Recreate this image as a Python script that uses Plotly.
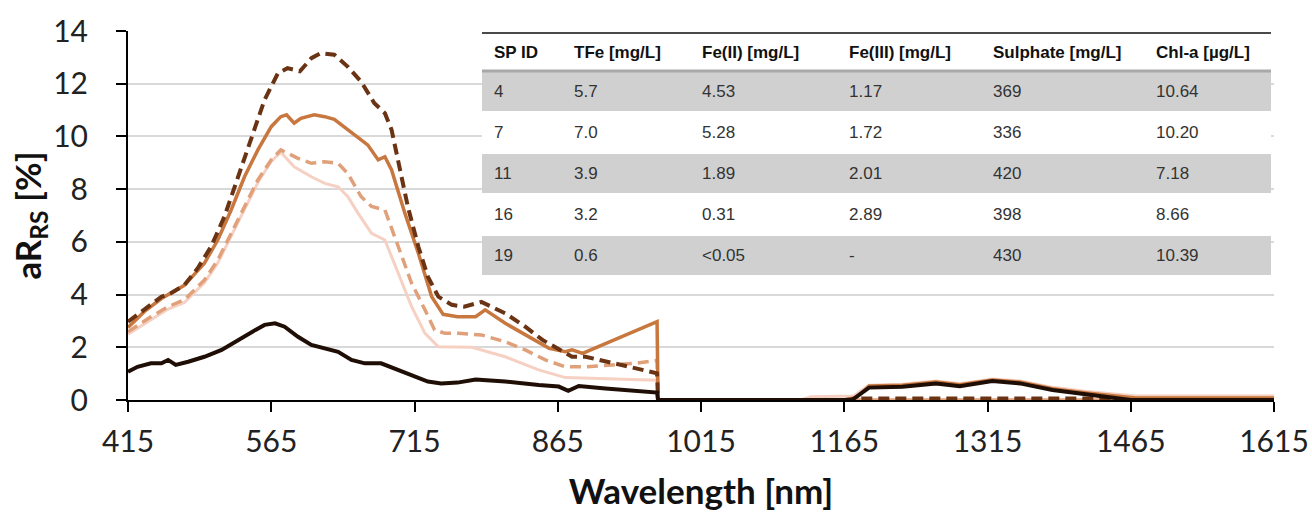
import plotly.graph_objects as go

# ---------------- data ----------------
wl_dark_dashed = [415, 432, 450, 460, 474, 488, 502, 516, 530, 544, 558, 572, 582, 595, 607, 617, 631, 645,
                  659, 673, 684, 691, 698, 708, 719, 729, 740, 754, 767, 785, 810, 831, 849, 870, 880, 894,
                  915, 940, 969, 970, 1165, 1185, 1435, 1450, 1615]
val_dark_dashed = [2.97, 3.42, 3.92, 4.05, 4.36, 5.0, 5.82, 6.96, 8.47, 9.99, 11.39, 12.4, 12.59, 12.47, 12.97,
                   13.16, 13.1, 12.65, 12.08, 11.26, 10.88, 10.25, 9.11, 7.34, 5.82, 4.68, 3.92, 3.61, 3.54,
                   3.72, 3.29, 2.78, 2.28, 1.83, 1.64, 1.64, 1.45, 1.26, 1.01, 0, 0, 0.06, 0.06, 0, 0]

wl_orange = [415, 432, 450, 474, 495, 509, 523, 537, 551, 565, 575, 581, 589, 596, 610, 621, 631, 645, 656,
             666, 677, 684, 691, 705, 719, 733, 745, 760, 779, 789, 810, 831, 856, 873, 880, 891, 969, 970,
             1165, 1178, 1191, 1226, 1261, 1286, 1320, 1349, 1383, 1419, 1453, 1470, 1615]
val_orange = [2.75, 3.35, 3.85, 4.35, 5.19, 6.07, 7.21, 8.47, 9.49, 10.37, 10.75, 10.82, 10.5, 10.69, 10.82,
              10.75, 10.65, 10.25, 9.93, 9.68, 9.11, 9.23, 8.73, 7.08, 5.57, 3.92, 3.25, 3.16, 3.16, 3.42,
              2.91, 2.47, 1.96, 1.83, 1.9, 1.77, 2.97, 0, 0, 0.1, 0.53, 0.56, 0.68, 0.58, 0.76, 0.68, 0.43,
              0.27, 0.13, 0.08, 0.08]

wl_light_dashed = [415, 439, 457, 474, 495, 509, 523, 537, 551, 565, 575, 579, 593, 607, 621, 635, 645, 659,
                   670, 684, 698, 712, 726, 736, 747, 761, 785, 810, 831, 852, 873, 894, 922, 946, 969, 970,
                   1615]
val_light_dashed = [2.59, 3.16, 3.54, 3.8, 4.55, 5.31, 6.32, 7.34, 8.35, 9.11, 9.49, 9.42, 9.17, 8.98, 9.04,
                    8.98, 8.6, 7.72, 7.34, 7.21, 5.82, 4.43, 3.42, 2.66, 2.53, 2.53, 2.47, 2.21, 1.9, 1.52,
                    1.26, 1.26, 1.33, 1.39, 1.5, 0, 0]

wl_pink = [415, 439, 457, 474, 495, 509, 523, 537, 551, 565, 575, 589, 607, 621, 635, 645, 656, 670, 684,
           698, 712, 726, 740, 775, 810, 845, 873, 969, 970, 1120, 1130, 1175, 1191, 1226, 1261, 1286, 1320,
           1349, 1383, 1419, 1453, 1470, 1615]
val_pink = [2.5, 3.05, 3.45, 3.7, 4.45, 5.2, 6.2, 7.2, 8.25, 9.05, 9.4, 8.85, 8.47, 8.22, 8.09, 7.72, 7.08,
            6.32, 6.07, 4.81, 3.54, 2.53, 2.02, 2.0, 1.64, 1.14, 0.85, 0.75, 0, 0, 0.12, 0.15, 0.56, 0.6,
            0.72, 0.62, 0.8, 0.72, 0.48, 0.32, 0.2, 0.15, 0.15]

wl_black = [415, 425, 439, 450, 457, 465, 478, 495, 513, 530, 548, 558, 569, 579, 593, 607, 621, 635, 649,
            663, 680, 694, 712, 729, 743, 760, 779, 810, 845, 866, 876, 887, 915, 943, 969, 970, 1165, 1173,
            1191, 1226, 1261, 1286, 1320, 1349, 1383, 1419, 1453, 1465, 1615]
val_black = [1.07, 1.26, 1.39, 1.39, 1.52, 1.33, 1.45, 1.64, 1.9, 2.28, 2.65, 2.85, 2.91, 2.78, 2.4, 2.09,
             1.96, 1.83, 1.52, 1.39, 1.39, 1.2, 0.95, 0.7, 0.63, 0.66, 0.78, 0.7, 0.57, 0.51, 0.35, 0.53,
             0.44, 0.35, 0.28, 0, 0, 0, 0.47, 0.5, 0.63, 0.52, 0.72, 0.63, 0.38, 0.22, 0.09, 0, 0]

x_ticks = [415, 565, 715, 865, 1015, 1165, 1315, 1465, 1615]
y_ticks = [0, 2, 4, 6, 8, 10, 12, 14]
grid_vals = [2, 4, 6, 8, 10, 12]

table_header = ["SP ID", "TFe [mg/L]", "Fe(II) [mg/L]", "Fe(III) [mg/L]", "Sulphate [mg/L]", "Chl-a [µg/L]"]
sp_id = ["4", "7", "11", "16", "19"]
tfe = ["5.7", "7.0", "3.9", "3.2", "0.6"]
fe2 = ["4.53", "5.28", "1.89", "0.31", "<0.05"]
fe3 = ["1.17", "1.72", "2.01", "2.89", "-"]
sulphate = ["369", "336", "420", "398", "430"]
chla = ["10.64", "10.20", "7.18", "8.66", "10.39"]

# ---------------- figure ----------------
W, H = 1312, 518
ML, MR, MT, MB = 128, 38, 31, 118
PW, PH = W - ML - MR, H - MT - MB

fig = go.Figure()

series = [
    ("SP 19", wl_pink, val_pink, "#F6D0C2", 3, "solid"),
    ("SP 16", wl_light_dashed, val_light_dashed, "#E0A07A", 3.5, "11px,6px"),
    ("SP 4", wl_orange, val_orange, "#C8773E", 3.5, "solid"),
    ("SP 7", wl_dark_dashed, val_dark_dashed, "#6A3313", 4, "11px,6px"),
    ("SP 11", wl_black, val_black, "#1E0E05", 4, "solid"),
]
for name, xs, ys, col, w, dash in series:
    fig.add_trace(go.Scatter(x=xs, y=ys, mode="lines", name=name, showlegend=False,
                             line=dict(color=col, width=w, dash=dash)))

# grid via overlay axis (no grid line at 14)
fig.add_trace(go.Scatter(x=[415], y=[0], yaxis="y2", mode="markers", marker=dict(opacity=0),
                         showlegend=False, hoverinfo="skip"))

tick_font = dict(family="Lato, Carlito, sans-serif", size=30, color="#222222")
title_font = dict(family="Lato, Carlito, sans-serif", size=35, color="#111111")

fig.update_layout(
    width=W, height=H,
    margin=dict(l=ML, r=MR, t=MT, b=MB, autoexpand=False),
    paper_bgcolor="white", plot_bgcolor="white",
    xaxis=dict(range=[415, 1615], tickvals=x_ticks, showgrid=False, zeroline=False, automargin=False,
               showline=True, linecolor="black", linewidth=2,
               ticks="outside", ticklen=10, tickwidth=2, tickcolor="black",
               tickfont=tick_font, ticklabelstandoff=4,
               title=dict(text="<b>Wavelength [nm]</b>", font=title_font, standoff=22)),
    yaxis=dict(range=[0, 14], tickvals=y_ticks, showgrid=False, zeroline=False, automargin=False,
               showline=True, linecolor="black", linewidth=2,
               ticks="outside", ticklen=10, tickwidth=2, tickcolor="black",
               tickfont=tick_font, ticklabelstandoff=22,
               title=dict(text="<b>aR<sub>RS</sub> [%]</b>", font=title_font, standoff=0)),
    yaxis2=dict(range=[0, 14], overlaying="y", tickvals=grid_vals, showgrid=True, automargin=False,
                gridcolor="#D9D9D9", gridwidth=2, showticklabels=False, zeroline=False,
                showline=False, layer="below traces"),
)


def px_x(p):
    return (p - ML) / PW


def px_y(p):
    return (H - MB - p) / PH


# ---------------- inset table ----------------
tbl_left, tbl_right = 482, 1271
tbl_top, head_bot = 33, 71
row_h = 41
col_x = [492, 572, 700, 847, 991, 1154]
rows = list(zip(sp_id, tfe, fe2, fe3, sulphate, chla))

shapes = []
shapes.append(dict(type="rect", xref="paper", yref="paper", layer="above",
                   x0=px_x(tbl_left), x1=px_x(tbl_right), y0=px_y(tbl_top),
                   y1=px_y(head_bot + row_h * len(rows)),
                   fillcolor="white", line=dict(width=0)))
for i in range(len(rows)):
    if i % 2 == 0:
        y0 = head_bot + i * row_h
        shapes.append(dict(type="rect", xref="paper", yref="paper", layer="above",
                           x0=px_x(tbl_left), x1=px_x(tbl_right), y0=px_y(y0 + 1), y1=px_y(y0 + row_h - 1),
                           fillcolor="#D0D0D0", line=dict(width=0)))
shapes.append(dict(type="line", xref="paper", yref="paper", layer="above",
                   x0=px_x(tbl_left), x1=px_x(tbl_right), y0=px_y(tbl_top), y1=px_y(tbl_top),
                   line=dict(color="#4A4A4A", width=2)))
shapes.append(dict(type="line", xref="paper", yref="paper", layer="above",
                   x0=px_x(tbl_left), x1=px_x(tbl_right), y0=px_y(head_bot), y1=px_y(head_bot),
                   line=dict(color="#A8A8A8", width=3)))

annotations = []
hdr_font = dict(family="Liberation Sans, Arial, sans-serif", size=17, color="#111111")
cell_font = dict(family="Liberation Sans, Arial, sans-serif", size=17, color="#333333")
for j, h in enumerate(table_header):
    annotations.append(dict(xref="paper", yref="paper", x=px_x(col_x[j]), y=px_y((tbl_top + head_bot) / 2 + 0.5),
                            text="<b>" + h + "</b>", showarrow=False, xanchor="left", yanchor="middle",
                            font=hdr_font))
for i, r in enumerate(rows):
    yc = head_bot + i * row_h + row_h / 2
    for j, v in enumerate(r):
        annotations.append(dict(xref="paper", yref="paper", x=px_x(col_x[j]), y=px_y(yc),
                                text=v, showarrow=False, xanchor="left", yanchor="middle", font=cell_font))

fig.update_layout(shapes=shapes, annotations=annotations)

fig.write_html("out.html")
